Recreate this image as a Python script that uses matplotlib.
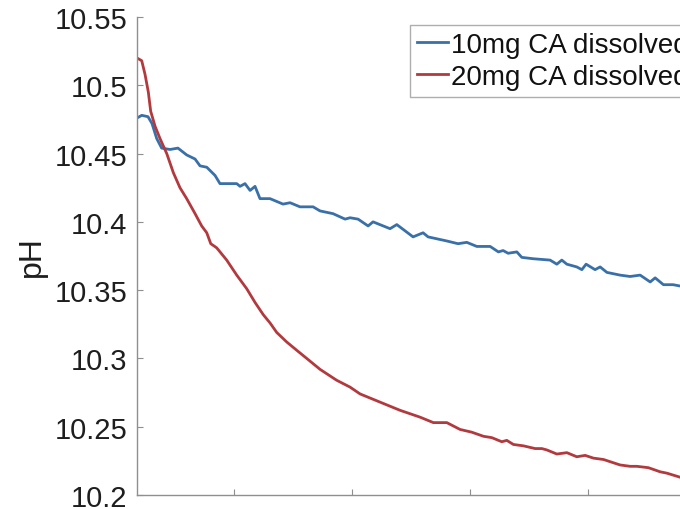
import matplotlib
matplotlib.use("Agg")
import matplotlib.pyplot as plt

plt.rcParams['font.family'] = ['Liberation Sans', 'DejaVu Sans']

# time (min) and pH readings
t_10mg = [1.80, 2.20, 2.73, 3.07, 3.47, 3.89, 4.60, 5.27, 6.01, 6.72, 7.14, 7.71, 8.41, 8.83,
          10.25, 10.53, 10.95, 11.38, 11.80, 12.22, 13.07, 14.17, 14.77, 15.61, 16.72, 17.31,
          18.41, 19.43, 19.85, 20.53, 21.38, 21.80, 23.24, 23.81, 25.19, 26.04, 26.46, 28.05,
          29.00, 29.74, 30.59, 31.72, 32.42, 32.82, 33.24, 33.98, 34.40, 35.36, 36.80, 37.37,
          37.79, 38.22, 39.06, 39.49, 39.85, 40.61, 41.04, 41.61, 42.73, 43.58, 44.43, 45.28,
          45.70, 46.40, 47.22, 47.82, 48.60, 49.50]
ph_10mg = [10.476, 10.478, 10.477, 10.472, 10.461, 10.454, 10.453, 10.454, 10.449, 10.446,
           10.441, 10.440, 10.434, 10.428, 10.428, 10.426, 10.428, 10.423, 10.426, 10.417,
           10.417, 10.413, 10.414, 10.411, 10.411, 10.408, 10.406, 10.402, 10.403, 10.402,
           10.397, 10.400, 10.395, 10.398, 10.389, 10.392, 10.389, 10.386, 10.384, 10.385,
           10.382, 10.382, 10.378, 10.379, 10.377, 10.378, 10.374, 10.373, 10.372, 10.369,
           10.372, 10.369, 10.367, 10.365, 10.369, 10.365, 10.367, 10.363, 10.361, 10.360,
           10.361, 10.356, 10.359, 10.354, 10.354, 10.353, 10.352, 10.351]

t_20mg = [1.80, 2.20, 2.48, 2.76, 2.96, 3.33, 3.75, 4.32, 4.88, 5.44, 6.01, 6.72, 7.28, 7.71,
          8.05, 8.55, 9.40, 10.25, 11.10, 11.80, 12.50, 13.07, 13.64, 14.49, 15.33, 16.18,
          17.31, 18.72, 19.85, 20.70, 22.11, 22.96, 24.09, 25.78, 26.91, 28.05, 29.17, 30.16,
          31.15, 31.86, 32.71, 33.13, 33.69, 34.54, 35.53, 36.10, 36.52, 37.37, 38.22, 39.06,
          39.77, 40.47, 41.32, 42.73, 43.58, 44.15, 45.13, 46.12, 46.69, 47.82, 48.60, 49.50]
ph_20mg = [10.520, 10.518, 10.508, 10.495, 10.481, 10.470, 10.461, 10.450, 10.436, 10.425,
           10.417, 10.406, 10.397, 10.392, 10.384, 10.381, 10.372, 10.361, 10.351, 10.341,
           10.332, 10.326, 10.319, 10.312, 10.306, 10.300, 10.292, 10.284, 10.279, 10.274,
           10.269, 10.266, 10.262, 10.257, 10.253, 10.253, 10.248, 10.246, 10.243, 10.242,
           10.239, 10.240, 10.237, 10.236, 10.234, 10.234, 10.233, 10.230, 10.231, 10.228,
           10.229, 10.227, 10.226, 10.222, 10.221, 10.221, 10.220, 10.217, 10.216, 10.213,
           10.212, 10.211]

labels = ['10mg CA dissolved', '20mg CA dissolved']
y_ticks = [10.2, 10.25, 10.3, 10.35, 10.4, 10.45, 10.5, 10.55]
y_ticklabels = ['10.2', '10.25', '10.3', '10.35', '10.4', '10.45', '10.5', '10.55']
x_ticks = [10, 20, 30, 40]

W, H = 680, 510
fig = plt.figure(figsize=(W / 100, H / 100), dpi=100)
ax = fig.add_axes([137 / W, (H - 496) / H, (700 - 137) / W, (496 - 18) / H])

ax.plot(t_10mg, ph_10mg, color='#3A70A8', lw=2.0, label=labels[0])
ax.plot(t_20mg, ph_20mg, color='#B23A3E', lw=2.0, label=labels[1])

ax.set_xlim(1.8, 49.5)
ax.set_ylim(10.2, 10.55)
ax.set_yticks(y_ticks)
ax.set_yticklabels(y_ticklabels)
ax.set_xticks(x_ticks)

for s in ['top', 'right']:
    ax.spines[s].set_visible(False)
for s in ['left', 'bottom']:
    ax.spines[s].set_color('#8f8f8f')
    ax.spines[s].set_linewidth(1.0)

ax.tick_params(axis='both', direction='in', length=4.5, width=0.8, color='#8f8f8f',
               labelsize=21, labelcolor='#1e1e1e', pad=7)
ax.tick_params(axis='x', labelbottom=False)

ax.set_ylabel('pH', fontsize=23, color='#1e1e1e')
ax.yaxis.set_label_coords(-0.16, 0.5)

leg = ax.legend(loc='upper left', bbox_to_anchor=(410 / W, 1 - 26 / H),
                bbox_transform=fig.transFigure, fontsize=20, frameon=True,
                fancybox=False, handlelength=1.1, handletextpad=0.12,
                borderpad=0.25, labelspacing=0.22, borderaxespad=0)
leg.get_frame().set_edgecolor('#9a9a9a')
leg.get_frame().set_linewidth(1.0)
for txt in leg.get_texts():
    txt.set_color('#111111')

fig.savefig('out.png', dpi=100)
